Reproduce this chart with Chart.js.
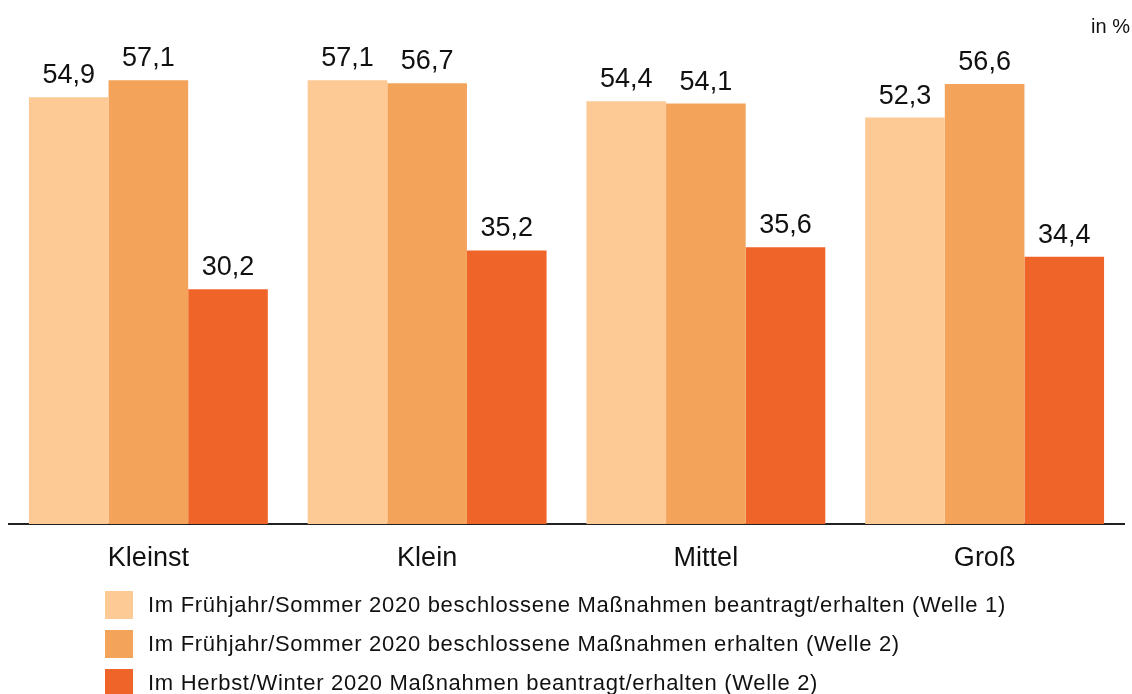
<!DOCTYPE html>
<html><head><meta charset="utf-8">
<script src="https://cdn.jsdelivr.net/npm/chart.js@4/dist/chart.umd.min.js"></script>
<style>
html,body{margin:0;padding:0;background:#fff;}
#wrap{position:relative;width:1132px;height:694px;font-family:"Liberation Sans",Arial,sans-serif;}
#c{position:absolute;left:0;top:0;}
#unit{position:absolute;right:2px;top:15px;font-size:20px;color:#111;}
#legend{position:absolute;left:105px;top:585px;}
.li{display:flex;align-items:center;height:39px;}
.sw{width:28px;height:28px;margin-right:15px;flex:none;}
.lt{font-size:22px;letter-spacing:0.7px;color:#111;white-space:nowrap;}
</style></head>
<body><div id="wrap"><canvas id="c" width="1132" height="694"></canvas><div id="unit">in %</div><div id="legend"></div></div>
<script>
const categories = ["Kleinst", "Klein", "Mittel", "Groß"];
const seriesNames = [
  "Im Frühjahr/Sommer 2020 beschlossene Maßnahmen beantragt/erhalten (Welle 1)",
  "Im Frühjahr/Sommer 2020 beschlossene Maßnahmen erhalten (Welle 2)",
  "Im Herbst/Winter 2020 Maßnahmen beantragt/erhalten (Welle 2)"
];
const welle1FS = [54.9, 57.1, 54.4, 52.3];
const welle2FS = [57.1, 56.7, 54.1, 56.6];
const welle2HW = [30.2, 35.2, 35.6, 34.4];
const colors = ["#FDC995", "#F4A35A", "#EF6428"];

const valuePlugin = {
  id: 'valueLabels',
  afterDatasetsDraw(chart) {
    const ctx = chart.ctx;
    ctx.save();
    ctx.font = '27px "Liberation Sans", Arial, sans-serif';
    ctx.fillStyle = '#111';
    ctx.textAlign = 'center';
    ctx.textBaseline = 'alphabetic';
    chart.data.datasets.forEach((ds, di) => {
      chart.getDatasetMeta(di).data.forEach((bar, i) => {
        ctx.fillText(ds.data[i].toFixed(1).replace('.', ','), bar.x, bar.y - 14);
      });
    });
    ctx.restore();
  }
};

const chart = new Chart(document.getElementById('c'), {
  type: 'bar',
  data: {
    labels: categories,
    datasets: [welle1FS, welle2FS, welle2HW].map((d, i) => ({
      label: seriesNames[i], data: d, backgroundColor: colors[i], borderWidth: 0,
      categoryPercentage: 0.857, barPercentage: 1.0
    }))
  },
  options: {
    responsive: false, animation: false,
    layout: { padding: { left: 9, right: 8, top: 57.7, bottom: 110 } },
    plugins: { legend: { display: false }, tooltip: { enabled: false } },
    scales: {
      x: {
        grid: { display: false, drawTicks: false },
        border: { display: true, color: '#222', width: 2 },
        ticks: { color: '#111', font: { family: '"Liberation Sans", Arial, sans-serif', size: 27 }, padding: 18 },
        afterFit(s) { s.height = 60; }
      },
      y: { display: false, min: 0, max: 60 }
    }
  },
  plugins: [valuePlugin]
});

const lg = document.getElementById('legend');
seriesNames.forEach((n, i) => {
  const row = document.createElement('div'); row.className = 'li';
  const sw = document.createElement('div'); sw.className = 'sw'; sw.style.background = colors[i];
  const t = document.createElement('span'); t.className = 'lt'; t.textContent = n;
  row.appendChild(sw); row.appendChild(t); lg.appendChild(row);
});
</script></body></html>
